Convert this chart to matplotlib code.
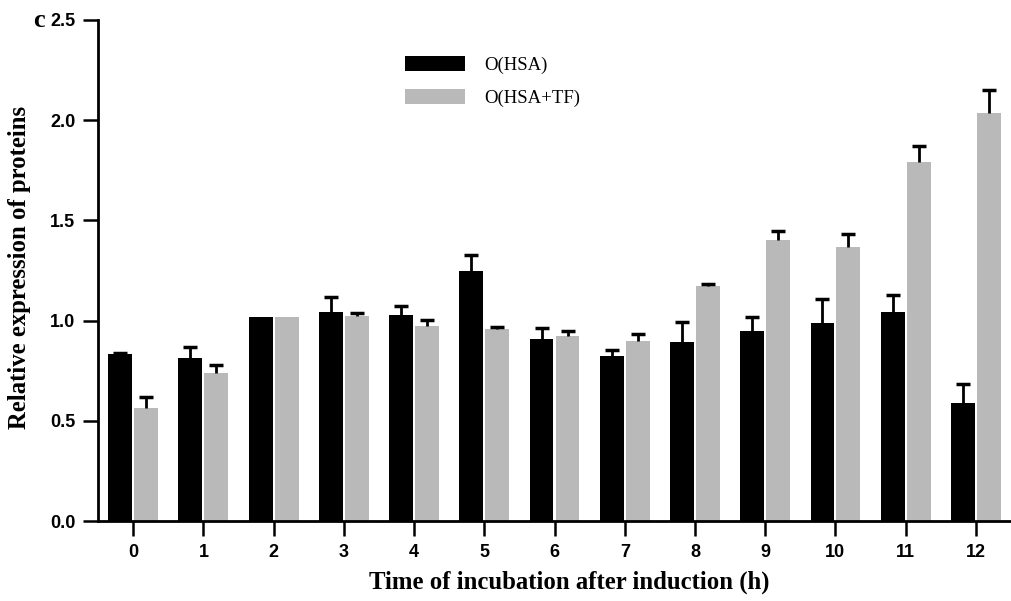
import numpy as np
import matplotlib.pyplot as plt
from matplotlib.patches import Patch

# data
hours = list(range(13))
hsa = [0.835, 0.813, 1.018, 1.043, 1.028, 1.248, 0.908, 0.823, 0.893, 0.948, 0.988, 1.043, 0.59]
hsa_err = [0.005, 0.055, 0.0, 0.075, 0.045, 0.079, 0.055, 0.03, 0.10, 0.07, 0.12, 0.085, 0.095]
hsa_tf = [0.564, 0.738, 1.018, 1.023, 0.973, 0.958, 0.923, 0.898, 1.173, 1.402, 1.367, 1.791, 2.036]
hsa_tf_err = [0.055, 0.04, 0.0, 0.015, 0.03, 0.01, 0.025, 0.035, 0.01, 0.045, 0.065, 0.08, 0.114]

black = '#000000'
grey = '#b8b9b8'

fig = plt.figure(figsize=(10.11, 6.01), dpi=100)
ax = fig.add_axes([0.097, 0.133, 0.903, 0.834])

x = np.arange(len(hours))
w = 0.34
off = 0.185
err_kw = dict(ecolor='black', elinewidth=2.0, capsize=5, capthick=2.5)
b1 = ax.bar(x - off, hsa, w, color=black, yerr=[np.zeros(len(hsa)), hsa_err], error_kw=err_kw, zorder=2)
b2 = ax.bar(x + off, hsa_tf, w, color=grey, yerr=[np.zeros(len(hsa_tf)), hsa_tf_err], error_kw=err_kw, zorder=2)
# one-sided error bars: drop the lower caps, and the zero-length ones
for bc, errs in [(b1, hsa_err), (b2, hsa_tf_err)]:
    caps = bc.errorbar.lines[1]
    caps[0].set_visible(False)
    up = caps[1]
    xs, ys = up.get_xdata(), up.get_ydata()
    keep = np.array(errs) > 0.002
    up.set_data(np.asarray(xs)[keep], np.asarray(ys)[keep])

ax.set_xlim(-0.5, 12.5)
ax.set_ylim(0, 2.5)
ax.set_xticks(x)
ax.set_xticklabels([str(h) for h in hours])
ax.set_yticks([0, 0.5, 1.0, 1.5, 2.0, 2.5])
ax.set_yticklabels(['0.0', '0.5', '1.0', '1.5', '2.0', '2.5'])

for s in ['top', 'right']:
    ax.spines[s].set_visible(False)
for s in ['left', 'bottom']:
    ax.spines[s].set_linewidth(2.0)
ax.tick_params(axis='both', length=10.5, width=1.8, pad=6)
for lab in ax.get_xticklabels() + ax.get_yticklabels():
    lab.set_fontfamily('Liberation Sans')
    lab.set_fontweight('bold')
    lab.set_fontsize(13)

ax.set_xlabel('Time of incubation after induction (h)', fontfamily='Liberation Serif',
              fontweight='bold', fontsize=17.8)
ax.set_ylabel('Relative expression of proteins', fontfamily='Liberation Serif',
              fontweight='bold', fontsize=17.8)
ax.xaxis.set_label_coords(0.516, -0.099)
ax.yaxis.set_label_coords(-0.0735, 0.506)

handles = [Patch(facecolor=black), Patch(facecolor=grey)]
fig.legend(handles, ['O(HSA)', 'O(HSA+TF)'], loc='upper left',
           bbox_to_anchor=(0.4006, 0.907), frameon=False, borderpad=0, borderaxespad=0,
           handlelength=3.2, handleheight=0.85, handletextpad=1.0, labelspacing=0.8,
           prop={'family': 'Liberation Serif', 'size': 13.5})

fig.text(0.039, 0.966, 'c', fontfamily='Liberation Serif', fontweight='bold',
         fontsize=19, ha='center', va='center')

fig.savefig('out.png', dpi=100)
